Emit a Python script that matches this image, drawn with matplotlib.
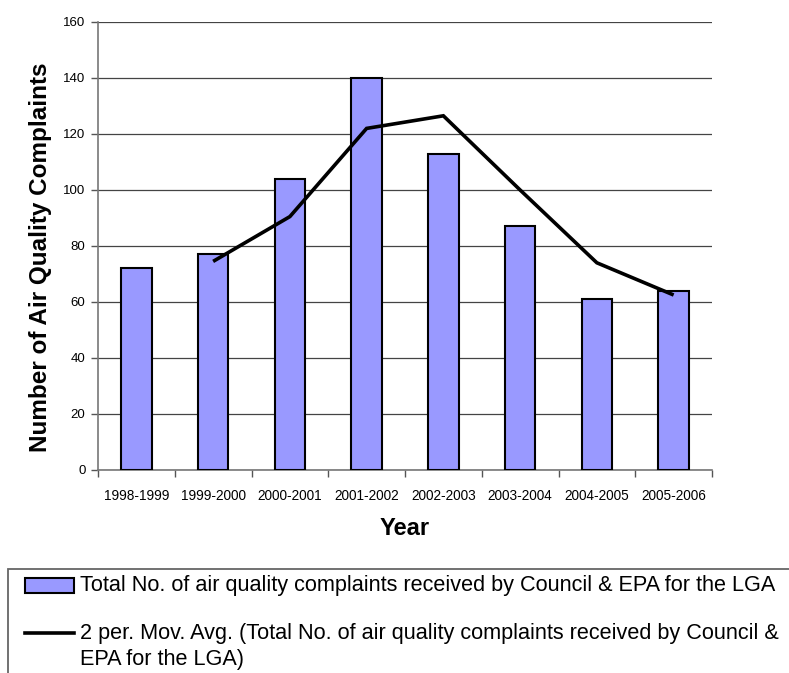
import matplotlib
matplotlib.use("Agg")
import matplotlib.pyplot as plt
import numpy as np
from matplotlib.patches import Rectangle
from matplotlib.lines import Line2D

plt.rcParams['font.family'] = ['Liberation Sans', 'DejaVu Sans']

years = ["1998-1999", "1999-2000", "2000-2001", "2001-2002",
         "2002-2003", "2003-2004", "2004-2005", "2005-2006"]
complaints = [72, 77, 104, 140, 113, 87, 61, 64]
yticks = [0, 20, 40, 60, 80, 100, 120, 140, 160]

bar_label = "Total No. of air quality complaints received by Council & EPA for the LGA"
avg_label_1 = "2 per. Mov. Avg. (Total No. of air quality complaints received by Council &"
avg_label_2 = "EPA for the LGA)"

# 2-period moving average, starting at the second period
vals = np.array(complaints, dtype=float)
mov_avg = (vals[1:] + vals[:-1]) / 2.0

W, H = 789, 673
fig = plt.figure(figsize=(W / 100, H / 100), dpi=100)
ax = fig.add_axes([98 / W, 1 - 470 / H, (712 - 98) / W, (470 - 22) / H])

x = np.arange(len(years))
bar_color = "#9999FF"
ax.bar(x, complaints, width=0.4, color=bar_color, edgecolor="black",
       linewidth=1.5, zorder=3)
ax.plot(x[1:], mov_avg, color="black", linewidth=2.6, zorder=4,
        solid_capstyle="butt", solid_joinstyle="miter")

ax.set_xlim(-0.5, len(years) - 0.5)
ax.set_ylim(0, 160)
ax.set_yticks(yticks)
ax.set_yticklabels([str(v) for v in yticks], fontsize=9.5)
ax.yaxis.grid(True, color="#444444", linewidth=0.9, zorder=0)
ax.set_axisbelow(True)

# category labels at centers, tick marks at category boundaries
ax.set_xticks(x)
ax.set_xticklabels(years, fontsize=9.8)
ax.tick_params(axis="x", which="major", length=0, pad=14)
ax.set_xticks(np.arange(-0.5, len(years)), minor=True)
ax.tick_params(axis="x", which="minor", length=5, width=1, color="#555555",
               direction="out")
ax.tick_params(axis="y", length=5, width=1, color="#555555", direction="out", pad=4)

for s in ["top", "right"]:
    ax.spines[s].set_visible(False)
for s in ["left", "bottom"]:
    ax.spines[s].set_color("#777777")
    ax.spines[s].set_linewidth(1.2)

ax.set_ylabel("Number of Air Quality Complaints", fontsize=17.5, fontweight="bold",
              va="center")
ax.yaxis.set_label_coords(-0.094, 0.475)
ax.set_xlabel("Year", fontsize=17, fontweight="bold", labelpad=10)

# legend box, extending past the lower-right edge of the figure
def fx(px):
    return px / W

def fy(py):
    return 1 - py / H

fig.patches.append(Rectangle((fx(8), fy(700)), fx(820) - fx(8), fy(569) - fy(700),
                             transform=fig.transFigure, facecolor="white",
                             edgecolor="#666666", linewidth=1.3))
fig.patches.append(Rectangle((fx(25), fy(593)), fx(74) - fx(25), fy(578) - fy(593),
                             transform=fig.transFigure, facecolor=bar_color,
                             edgecolor="black", linewidth=1.5))
fig.lines.append(Line2D([fx(25), fx(74)], [fy(633), fy(633)],
                        transform=fig.transFigure, color="black", linewidth=2.6))
fig.text(fx(80), fy(585), bar_label, fontsize=15.6, va="center", ha="left")
fig.text(fx(80), fy(633), avg_label_1, fontsize=15.6, va="center", ha="left")
fig.text(fx(80), fy(660), avg_label_2, fontsize=15.6, va="center", ha="left")

fig.savefig("out.png", dpi=100)
